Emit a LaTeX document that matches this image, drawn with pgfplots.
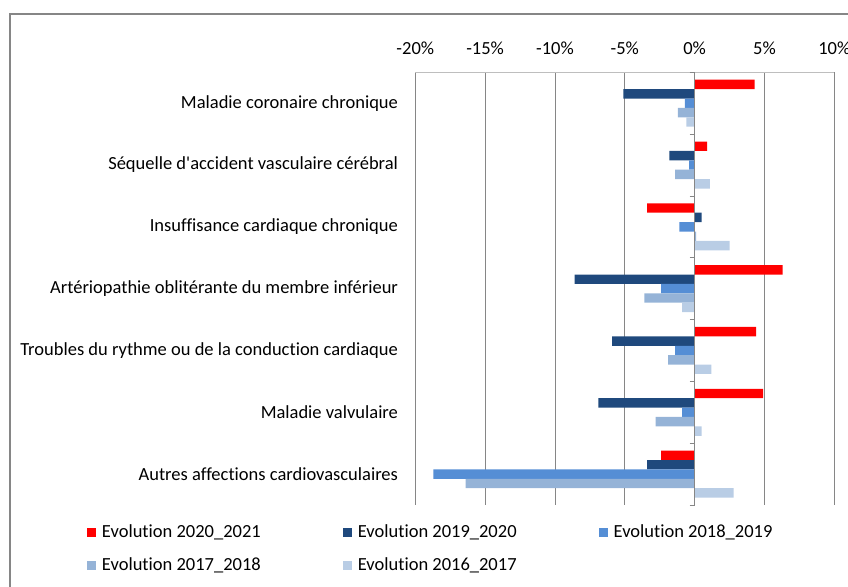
\documentclass[border=0pt]{standalone}
\usepackage{fontspec}
\newfontfamily\carlito{Carlito}[Ligatures=NoCommon]
\usepackage{pgfplots}
\pgfplotsset{compat=1.18}
\definecolor{cRed}{RGB}{255,0,0}
\definecolor{cNavy}{RGB}{31,73,125}
\definecolor{cBlue}{RGB}{85,142,213}
\definecolor{cMed}{RGB}{149,179,215}
\definecolor{cLight}{RGB}{185,205,229}
\definecolor{gridc}{RGB}{134,134,134}
\definecolor{topc}{RGB}{190,190,190}
\begin{document}
\carlito\fontsize{18.5bp}{22bp}\selectfont
\begin{tikzpicture}
\useasboundingbox (-415.3bp,-82bp) rectangle (432.7bp,505bp);
\draw[gridc, line width=1.5bp] (-405.3bp,-100bp) -- (-405.3bp,491bp) -- (460bp,491bp);
\begin{axis}[at={(0,0)}, anchor=south west, scale only axis,
  width=419bp, height=432.7bp,
  xmin=-20, xmax=10, ymin=-0.5, ymax=6.5, y dir=reverse,
  xbar, bar width=0.152,
  xtick={-20,-15,...,10},
  xticklabels={-20\%,-15\%,-10\%,-5\%,0\%,5\%,10\%},
  ytick={0,...,6},
  yticklabels={Maladie coronaire chronique,
    Séquelle d'accident vasculaire cérébral,
    Insuffisance cardiaque chronique,
    Artériopathie oblitérante du membre inférieur,
    Troubles du rythme ou de la conduction cardiaque,
    Maladie valvulaire,
    Autres affections cardiovasculaires},
  axis x line*=top, axis y line*=left,
  x axis line style={draw=topc, line width=1.2bp, -},
  y axis line style={draw=none},
  major tick length=0pt,
  tick style={draw=none},
  xmajorgrids, grid style={draw=gridc, line width=0.8bp},
  yticklabel style={anchor=east, xshift=-11bp},
  xticklabel style={anchor=south, yshift=11bp},
  legend columns=3,
  legend image code/.code={\fill[#1] (0bp,-4.5bp) rectangle (9bp,4.5bp);},
  legend style={at={(axis description cs:-0.784,-0.046)}, anchor=north west,
    draw=none, fill=none, inner sep=0pt, row sep=17bp,
    nodes={inner sep=0pt, anchor=west},
    /tikz/every odd column/.append style={column sep=6bp},
    /tikz/every even column/.append style={column sep=82bp}},
]
\addplot[fill=cRed, draw=none, bar shift=-0.304] coordinates {
 (4.3,0) (0.9,1) (-3.4,2) (6.3,3) (4.4,4) (4.9,5) (-2.4,6)};
\addlegendentry{Evolution 2020\_2021}
\addplot[fill=cNavy, draw=none, bar shift=-0.152] coordinates {
 (-5.1,0) (-1.8,1) (0.5,2) (-8.6,3) (-5.9,4) (-6.9,5) (-3.4,6)};
\addlegendentry{Evolution 2019\_2020}
\addplot[fill=cBlue, draw=none, bar shift=0] coordinates {
 (-0.7,0) (-0.4,1) (-1.1,2) (-2.4,3) (-1.4,4) (-0.9,5) (-18.7,6)};
\addlegendentry{Evolution 2018\_2019}
\addplot[fill=cMed, draw=none, bar shift=0.152] coordinates {
 (-1.2,0) (-1.4,1) (0.1,2) (-3.6,3) (-1.9,4) (-2.8,5) (-16.4,6)};
\addlegendentry{Evolution 2017\_2018}
\addplot[fill=cLight, draw=none, bar shift=0.304] coordinates {
 (-0.6,0) (1.1,1) (2.5,2) (-0.9,3) (1.2,4) (0.5,5) (2.8,6)};
\addlegendentry{Evolution 2016\_2017}
\pgfplotsinvokeforeach{-0.5,0.5,1.5,2.5,3.5,4.5,5.5,6.5}{
  \draw[gridc, line width=0.8bp] (axis cs:-0.36,#1) -- (axis cs:0,#1);
}
\draw[gridc, line width=0.8bp] (axis cs:0,-0.5) -- (axis cs:0,6.5);
\end{axis}
\end{tikzpicture}
\end{document}
